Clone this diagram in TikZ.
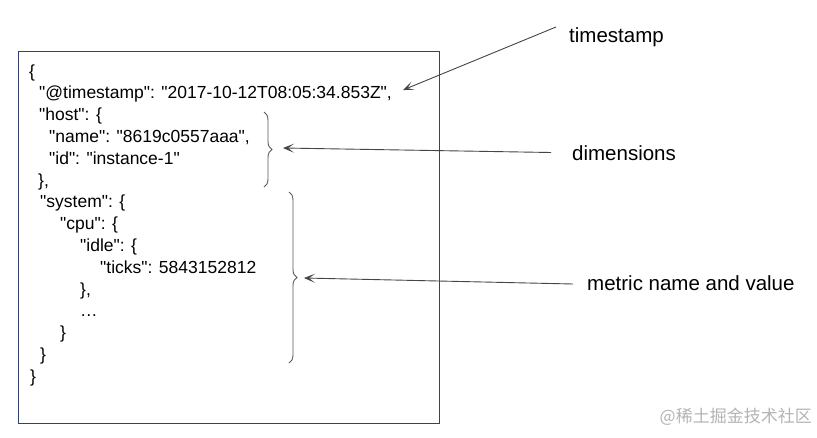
\documentclass[tikz,border=0pt]{standalone}
\usepackage{fontspec}
\newfontfamily\codefont{Liberation Sans}
\newfontfamily\labfont{Liberation Sans}
\newfontfamily\cjkfont{Noto Sans CJK SC}
\usetikzlibrary{arrows.meta,decorations.pathreplacing}
\definecolor{boxblue}{HTML}{33416E}
\definecolor{arrowgray}{HTML}{454545}
\definecolor{bracegray}{HTML}{5A5A5A}
\definecolor{wmgray}{HTML}{B4B4B4}
\tikzset{
  code/.style={anchor=mid west, inner sep=0pt, font=\codefont\fontsize{17.5}{21}\selectfont, text=black},
  lab/.style={anchor=mid west, inner sep=0pt, font=\labfont\fontsize{20.5}{24}\selectfont, text=black},
  pointer/.style={draw=arrowgray, line width=0.9pt, -{Stealth[length=11pt,width=9pt,inset=6pt]}},
  jbrace/.style={draw=bracegray, line width=0.9pt, decorate, decoration={brace, amplitude=8pt}},
}
\begin{document}
\begin{tikzpicture}[x=1pt,y=-1pt]
\useasboundingbox (0,0) rectangle (817,437);
\fill[white] (0,0) rectangle (817,437);
\draw[boxblue, line width=1pt] (18,51) rectangle (439,423);
% code lines
\node[code] (l1) at (29,75) {\{};
\node[code] (l2) at (39,96.8) {"@timestamp": "2017-10-12T08:05:34.853Z",};
\node[code] (l3) at (39,118.6) {"host": \{};
\node[code] (l4) at (49,140.4) {"name": "8619c0557aaa",};
\node[code] (l5) at (49,162.2) {"id": "instance-1"};
\node[code] (l6) at (38,184) {\},};
\node[code] (l7) at (40,205.8) {"system": \{};
\node[code] (l8) at (60,227.6) {"cpu": \{};
\node[code] (l9) at (80,249.4) {"idle": \{};
\node[code] (l10) at (100,271.2) {"ticks": 5843152812};
\node[code] (l11) at (80,293) {\},};
\node[code] (l12) at (80,314.8) {…};
\node[code] (l13) at (60,336.6) {\}};
\node[code] (l14) at (40,358.4) {\}};
\node[code] (l15) at (30,380.2) {\}};
% braces
\coordinate (b1t) at (264,112);
\coordinate (b1b) at (264,187);
\coordinate (b2t) at (289,192);
\coordinate (b2b) at (289,363);
\draw[jbrace] (b1t) -- (b1b);
\draw[jbrace] (b2t) -- (b2b);
% labels
\node[lab] (ts) at (569,40) {timestamp};
\node[lab] (dim) at (572,158) {dimensions};
\node[lab] (met) at (587,288) {metric name and value};
% arrows
\coordinate (a1s) at (556,27);
\coordinate (a1e) at (403,90);
\coordinate (a2s) at (551,152.5);
\coordinate (a2e) at (283,148);
\coordinate (a3s) at (573,284);
\coordinate (a3e) at (304,278);
\draw[pointer] (a1s) -- (a1e);
\draw[pointer] (a2s) -- (a2e);
\draw[pointer] (a3s) -- (a3e);
% watermark
\node[anchor=mid east, inner sep=0pt, text=wmgray, font=\cjkfont\fontsize{17}{20}\selectfont] (wm) at (812,420) {@稀土掘金技术社区};
\end{tikzpicture}
\end{document}
